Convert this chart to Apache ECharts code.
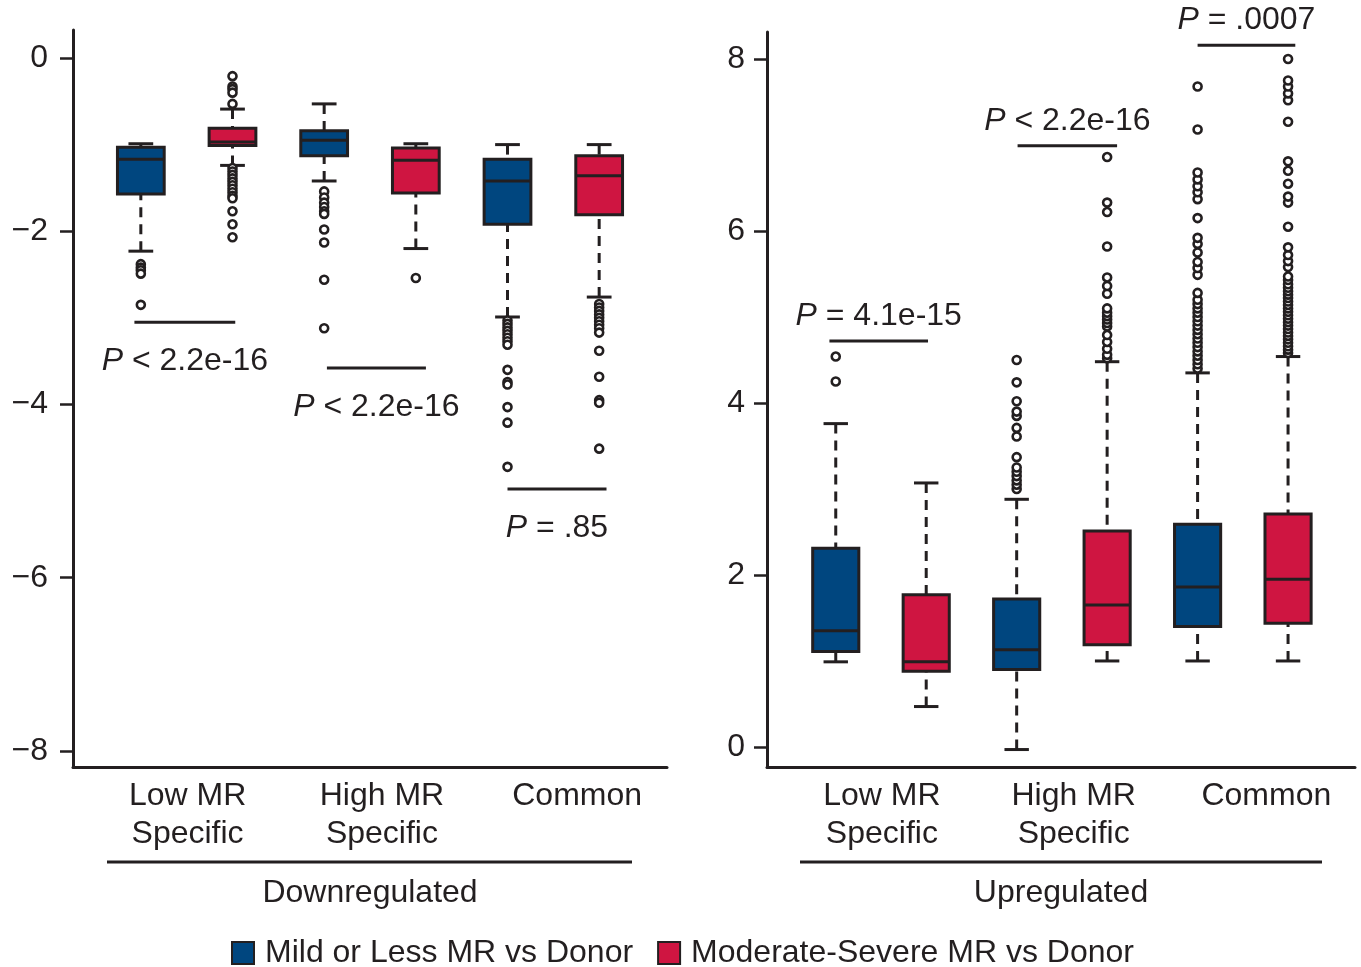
<!DOCTYPE html>
<html>
<head>
<meta charset="utf-8">
<script src="https://cdn.jsdelivr.net/npm/echarts@6/dist/echarts.min.js"></script>
<style>html,body{margin:0;padding:0;background:#fff;}#c{width:1361px;height:967px;}</style>
</head>
<body>
<div id="c"></div>
<script>
// ---------------- DATA ----------------
const categories = ['Low MR\nSpecific', 'High MR\nSpecific', 'Common'];
const groupNames = ['Downregulated', 'Upregulated'];
const seriesNames = ['Mild or Less MR vs Donor', 'Moderate-Severe MR vs Donor'];
const yTicksDown = [-8, -6, -4, -2, 0];
const yTicksUp = [0, 2, 4, 6, 8];

// box stats per category: [lower whisker, Q1, median, Q3, upper whisker]
const downMild = [
  [-2.23, -1.57, -1.17, -1.03, -0.99],
  [-1.42, -1.13, -0.95, -0.84, -0.53],
  [-2.99, -1.92, -1.42, -1.17, -1.00]
];
const downModerate = [
  [-1.24, -1.01, -0.97, -0.81, -0.59],
  [-2.20, -1.56, -1.18, -1.04, -0.99],
  [-2.76, -1.81, -1.36, -1.13, -1.00]
];
const upMild = [
  [0.99, 1.11, 1.35, 2.31, 3.76],
  [-0.03, 0.90, 1.13, 1.72, 2.88],
  [1.00, 1.40, 1.86, 2.59, 4.35]
];
const upModerate = [
  [0.47, 0.88, 0.99, 1.77, 3.07],
  [1.00, 1.19, 1.65, 2.51, 4.48],
  [1.00, 1.44, 1.95, 2.71, 4.54]
];

// outliers per category
const downMildOut = [
  [-2.38, -2.42, -2.45, -2.49, -2.85],
  [-1.54, -1.61, -1.67, -1.72, -1.77, -1.80, -1.98, -2.13, -2.56, -3.12],
  [-3.03, -3.07, -3.11, -3.15, -3.19, -3.23, -3.27, -3.31, -3.60, -3.74, -3.77, -4.03, -4.21, -4.72]
];
const downModerateOut = [
  [-0.21, -0.33, -0.36, -0.40, -0.53, -1.27, -1.31, -1.35, -1.39, -1.43, -1.47, -1.51, -1.55, -1.59, -1.62, -1.77, -1.92, -2.07],
  [-2.54],
  [-2.84, -2.88, -2.92, -2.96, -3.00, -3.04, -3.08, -3.12, -3.17, -3.38, -3.68, -3.95, -3.98, -4.51]
];
const upMildOut = [
  [4.25, 4.54],
  [3.00, 3.05, 3.10, 3.15, 3.20, 3.25, 3.37, 3.61, 3.71, 3.85, 3.90, 4.02, 4.24, 4.50],
  [4.40, 4.45, 4.50, 4.55, 4.60, 4.65, 4.70, 4.75, 4.80, 4.85, 4.90, 4.95, 5.00, 5.05, 5.10, 5.15, 5.20, 5.28,
   5.49, 5.57, 5.64, 5.75, 5.85, 5.92, 6.15, 6.37, 6.45, 6.52, 6.60, 6.68, 7.18, 7.68]
];
const upModerateOut = [
  [],
  [4.52, 4.56, 4.63, 4.71, 4.79, 4.89, 4.93, 4.97, 5.01, 5.05, 5.10, 5.27, 5.36, 5.46, 5.82, 6.22, 6.33, 6.86],
  [4.58, 4.62, 4.66, 4.70, 4.74, 4.78, 4.82, 4.86, 4.90, 4.94, 4.98, 5.02, 5.06, 5.10, 5.14, 5.18, 5.22, 5.26,
   5.30, 5.34, 5.38, 5.43, 5.47, 5.58, 5.65, 5.72, 5.81, 6.05, 6.33, 6.40, 6.55, 6.70, 6.81, 7.27, 7.52, 7.60,
   7.68, 7.75, 8.00]
];

// p-value annotations per category: text, bracket level, bracket span (x in box units)
const downPText = ['P < 2.2e-16', 'P < 2.2e-16', 'P = .85'];
const downPLevel = [-3.05, -3.58, -4.975];
const downPSpan = [[0.93, 2.03], [3.03, 4.11], [5.00, 6.08]];
const upPText = ['P = 4.1e-15', 'P < 2.2e-16', 'P = .0007'];
const upPLevel = [4.72, 6.99, 8.16];
const upPSpan = [[0.93, 2.02], [3.01, 4.11], [5.00, 6.08]];

// ---------------- STYLE ----------------
const BLUE = '#00467f';
const RED = '#cf1541';
const INK = '#231f20';
const FONT = '"Liberation Sans", Arial, Helvetica, sans-serif';
const FS = 32;
const BOX_W = 0.51, CAP_W = 0.27;
const labelPos = [1.51, 3.63, 5.76];

function renderBox(color) {
  return function (params, api) {
    const x = api.value(0);
    const v = [1, 2, 3, 4, 5].map(i => api.value(i));
    const p = v.map(y => api.coord([x, y]));
    const cx = p[0][0];
    const bw = api.size([BOX_W, 0])[0];
    const cw = api.size([CAP_W, 0])[0];
    const st = { stroke: INK, lineWidth: 3, fill: null };
    const dash = { stroke: INK, lineWidth: 3, lineDash: [10, 7] };
    return {
      type: 'group',
      children: [
        { type: 'line', shape: { x1: cx, y1: p[4][1], x2: cx, y2: p[3][1] }, style: dash },
        { type: 'line', shape: { x1: cx, y1: p[0][1], x2: cx, y2: p[1][1] }, style: dash },
        { type: 'line', shape: { x1: cx - cw / 2, y1: p[4][1], x2: cx + cw / 2, y2: p[4][1] }, style: st },
        { type: 'line', shape: { x1: cx - cw / 2, y1: p[0][1], x2: cx + cw / 2, y2: p[0][1] }, style: st },
        { type: 'rect', shape: { x: cx - bw / 2, y: p[3][1], width: bw, height: p[1][1] - p[3][1] },
          style: { fill: color, stroke: INK, lineWidth: 3 } },
        { type: 'line', shape: { x1: cx - bw / 2, y1: p[2][1], x2: cx + bw / 2, y2: p[2][1] }, style: st }
      ]
    };
  };
}

function boxSeries(name, stats, offset, axis, color) {
  return {
    name: name, type: 'custom', xAxisIndex: axis, yAxisIndex: axis,
    itemStyle: { color: color, borderColor: INK, borderWidth: 2 },
    data: stats.map((s, k) => [2 * k + offset].concat(s)),
    encode: { x: 0, y: [1, 2, 3, 4, 5] },
    renderItem: renderBox(color),
    clip: false, z: 3, silent: true
  };
}

function outlierSeries(outs, offset, axis) {
  const data = [];
  outs.forEach((arr, k) => arr.forEach(v => data.push([2 * k + offset, v])));
  return {
    name: 'outliers', type: 'scatter', xAxisIndex: axis, yAxisIndex: axis,
    data: data, symbol: 'circle', symbolSize: 8,
    itemStyle: { color: '#fff', borderColor: INK, borderWidth: 2.6, opacity: 1 },
    z: 4, silent: true
  };
}

function pSeries(texts, levels, spans, axis, below) {
  return {
    name: 'pvalues', type: 'custom', xAxisIndex: axis, yAxisIndex: axis,
    data: texts.map((t, k) => [spans[k][0], spans[k][1], levels[k]]),
    encode: { x: [0, 1], y: 2 },
    clip: false, z: 5, silent: true,
    renderItem: function (params, api) {
      const y = api.value(2);
      const a = api.coord([api.value(0), y]);
      const b = api.coord([api.value(1), y]);
      const t = texts[params.dataIndex];
      const cx = (a[0] + b[0]) / 2;
      const ty = below ? a[1] + 39 : a[1] - 25;
      return {
        type: 'group',
        children: [
          { type: 'line', shape: { x1: a[0], y1: a[1], x2: b[0], y2: b[1] }, style: { stroke: INK, lineWidth: 3 } },
          { type: 'text', x: cx, y: ty, style: {
              text: '{i|P}{n|' + t.slice(1) + '}',
              align: 'center', verticalAlign: 'middle',
              fontSize: FS, fontFamily: FONT, fill: INK,
              rich: {
                i: { fontStyle: 'italic', fontSize: FS, fontFamily: FONT, fill: INK },
                n: { fontSize: FS, fontFamily: FONT, fill: INK }
              }
          } }
        ]
      };
    }
  };
}

function fmtNum(v) { return v < 0 ? '\u2212' + Math.abs(v) : String(v); }

function xAxisCfg(min, max, name) {
  return {
    type: 'value', min: min, max: max,
    name: name, nameLocation: 'middle', nameGap: 110,
    nameTextStyle: { fontSize: FS, fontFamily: FONT, color: INK },
    axisLine: { show: true, onZero: false, lineStyle: { color: INK, width: 3 } },
    axisTick: { show: false },
    splitLine: { show: false },
    axisLabel: {
      customValues: labelPos,
      formatter: function (v) {
        let idx = 0, best = 1e9;
        labelPos.forEach((p, i) => { const d = Math.abs(p - v); if (d < best) { best = d; idx = i; } });
        return categories[idx];
      },
      fontSize: FS, fontFamily: FONT, color: INK, lineHeight: 38, margin: 10
    }
  };
}

function yAxisCfg(min, max, ticks, margin) {
  return {
    type: 'value', min: min, max: max,
    axisLine: { show: true, onZero: false, lineStyle: { color: INK, width: 3 } },
    axisTick: { show: true, customValues: ticks, length: 13, lineStyle: { color: INK, width: 2.5 } },
    axisLabel: { customValues: ticks, formatter: fmtNum, fontSize: FS, fontFamily: FONT, color: INK, margin: margin },
    splitLine: { show: false }
  };
}

const chart = echarts.init(document.getElementById('c'), null, { renderer: 'canvas' });
chart.setOption({
  backgroundColor: '#fff',
  animation: false,
  textStyle: { fontFamily: FONT },
  grid: [
    { left: 73, top: 30, width: 594, height: 737 },
    { left: 767, top: 32, width: 588, height: 735 }
  ],
  xAxis: [
    xAxisCfg(0.26, 6.74, groupNames[0]),
    Object.assign(xAxisCfg(0.24, 6.74, groupNames[1]), { gridIndex: 1 })
  ],
  yAxis: [
    yAxisCfg(-8.185, 0.323, yTicksDown, 25),
    Object.assign(yAxisCfg(-0.233, 8.314, yTicksUp, 22), { gridIndex: 1 })
  ],
  legend: {
    data: seriesNames,
    left: 231, top: 937, padding: 0,
    icon: 'rect', itemWidth: 22, itemHeight: 22, itemGap: 24,
    itemStyle: { borderColor: INK, borderWidth: 2 },
    textStyle: { fontSize: FS, fontFamily: FONT, color: INK, padding: [0, 0, 0, 6] },
    selectedMode: false
  },
  graphic: [
    { type: 'line', shape: { x1: 107, y1: 862, x2: 632, y2: 862 }, style: { stroke: INK, lineWidth: 3 } },
    { type: 'line', shape: { x1: 800, y1: 862, x2: 1322, y2: 862 }, style: { stroke: INK, lineWidth: 3 } }
  ],
  series: [
    boxSeries(seriesNames[0], downMild, 1, 0, BLUE),
    boxSeries(seriesNames[1], downModerate, 2, 0, RED),
    boxSeries(seriesNames[0], upMild, 1, 1, BLUE),
    boxSeries(seriesNames[1], upModerate, 2, 1, RED),
    outlierSeries(downMildOut, 1, 0),
    outlierSeries(downModerateOut, 2, 0),
    outlierSeries(upMildOut, 1, 1),
    outlierSeries(upModerateOut, 2, 1),
    pSeries(downPText, downPLevel, downPSpan, 0, true),
    pSeries(upPText, upPLevel, upPSpan, 1, false)
  ]
});
</script>
</body>
</html>
